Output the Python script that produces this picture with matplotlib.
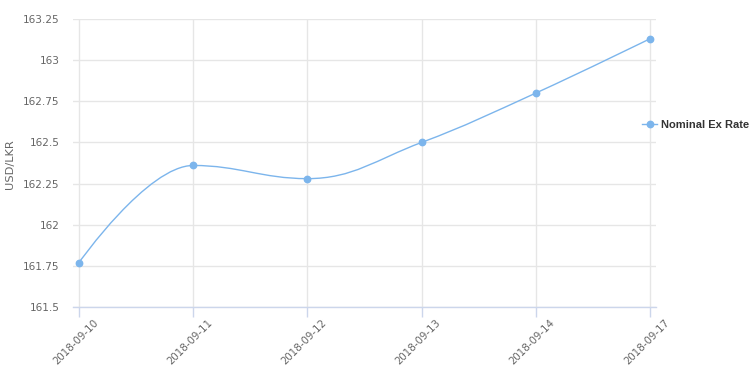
import numpy as np
import matplotlib
matplotlib.use("Agg")
import matplotlib.pyplot as plt
from matplotlib.path import Path
from matplotlib.patches import PathPatch
from matplotlib.lines import Line2D

dates = ["2018-09-10", "2018-09-11", "2018-09-12", "2018-09-13", "2018-09-14", "2018-09-17"]
rates = [161.77, 162.36, 162.28, 162.50, 162.80, 163.13]
y_ticks = [161.5, 161.75, 162.0, 162.25, 162.5, 162.75, 163.0, 163.25]
series_name = "Nominal Ex Rate"
y_title = "USD/LKR"

LINE = "#7cb5ec"
GRID = "#e6e6e6"
AXIS = "#ccd6eb"
TXT = "#666666"

def highcharts_spline(xs, ys, smoothing=1.5):
    n = len(xs)
    lc = [None] * n
    rc = [None] * n
    denom = smoothing + 1
    for i in range(1, n - 1):
        px, py = xs[i], ys[i]
        lx, ly = xs[i - 1], ys[i - 1]
        nx, ny = xs[i + 1], ys[i + 1]
        lcx = (smoothing * px + lx) / denom
        lcy = (smoothing * py + ly) / denom
        rcx = (smoothing * px + nx) / denom
        rcy = (smoothing * py + ny) / denom
        if rcx != lcx:
            corr = ((rcy - lcy) * (rcx - px)) / (rcx - lcx) + py - rcy
            lcy += corr
            rcy += corr
        if lcy > ly and lcy > py:
            lcy = max(ly, py); rcy = 2 * py - lcy
        elif lcy < ly and lcy < py:
            lcy = min(ly, py); rcy = 2 * py - lcy
        if rcy > ny and rcy > py:
            rcy = max(ny, py); lcy = 2 * py - rcy
        elif rcy < ny and rcy < py:
            rcy = min(ny, py); lcy = 2 * py - rcy
        lc[i] = (lcx, lcy)
        rc[i] = (rcx, rcy)
    verts = [(xs[0], ys[0])]
    codes = [Path.MOVETO]
    for i in range(1, n):
        c1 = rc[i - 1] if rc[i - 1] is not None else (xs[i - 1], ys[i - 1])
        c2 = lc[i] if lc[i] is not None else (xs[i], ys[i])
        verts += [c1, c2, (xs[i], ys[i])]
        codes += [Path.CURVE4] * 3
    return Path(verts, codes)

fig = plt.figure(figsize=(7.5, 3.72), dpi=100)
ax = fig.add_axes([73 / 750, 1 - 307 / 372, (656 - 73) / 750, (307 - 19) / 372])

x = np.arange(len(dates))
ax.set_xlim(-0.0525, len(dates) - 1 + 0.0525)
ax.set_ylim(y_ticks[0], y_ticks[-1])

path = highcharts_spline(list(x.astype(float)), rates)
ax.add_patch(PathPatch(path, facecolor="none", edgecolor=LINE, lw=1.0, zorder=3))
ax.plot(x, rates, linestyle="none", marker="o", ms=4.6, color=LINE, zorder=4)

ax.set_yticks(y_ticks)
ax.set_yticklabels(["%g" % v for v in y_ticks])
ax.set_xticks(x)
ax.set_xticklabels([])
for xi, lab in zip(x, dates):
    ax.annotate(lab, xy=(xi, 0), xycoords=ax.get_xaxis_transform(),
                xytext=(14, -11), textcoords="offset pixels",
                rotation=45, ha="right", va="top", rotation_mode="anchor",
                fontsize=7.4, color=TXT, annotation_clip=False)

ax.grid(True, color=GRID, lw=1.0)
ax.set_axisbelow(True)
for s in ["top", "right", "left"]:
    ax.spines[s].set_visible(False)
ax.spines["bottom"].set_color(AXIS)
ax.spines["bottom"].set_linewidth(1.0)
ax.tick_params(axis="y", length=0, pad=9.5, labelsize=7.6, labelcolor=TXT)
ax.tick_params(axis="x", length=7, color=AXIS, width=1.0, pad=2)

fig.text(10 / 750, 1 - 164 / 372, y_title, rotation=90, ha="center", va="center",
         fontsize=8.2, color=TXT)

handle = Line2D([], [], color=LINE, lw=1.0, marker="o", ms=4.6)
fig.legend([handle], [series_name], loc="center left", bbox_to_anchor=(638 / 750, 1 - 125 / 372),
           frameon=False, handlelength=1.3, handletextpad=0.35, borderaxespad=0,
           prop={"family": "Liberation Sans", "weight": "bold", "size": 8}, labelcolor="#333333")

fig.savefig("out.png", dpi=100)
